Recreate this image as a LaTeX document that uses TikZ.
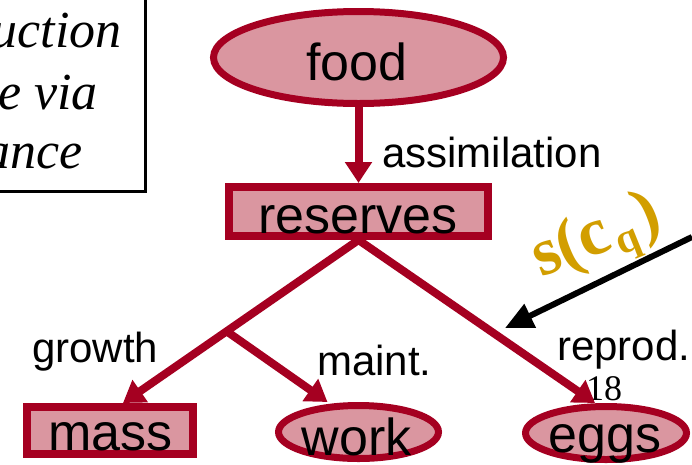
\documentclass[tikz,border=0pt]{standalone}
\usepackage{fontspec}
\setmainfont{Liberation Sans}
\newfontfamily\serifface{Liberation Serif}
\usetikzlibrary{arrows.meta,calc,shapes.geometric}
\definecolor{flowred}{RGB}{165,0,33}
\definecolor{poolpink}{RGB}{218,150,160}
\definecolor{cuegold}{RGB}{210,158,0}

\begin{document}
\begin{tikzpicture}[x=1pt,y=-1pt,
  pool/.style={draw=flowred, fill=poolpink, line width=7pt, inner sep=0pt},
  boxpool/.style={pool, rectangle, line width=8pt},
  ovalpool/.style={pool, ellipse},
  poolname/.style={font=\fontsize{52}{60}\selectfont, anchor=base, inner sep=0pt},
  flowlbl/.style={font=\fontsize{42}{48}\selectfont, anchor=base west, inner sep=0pt},
  notetext/.style={font=\serifface\itshape\fontsize{52}{60}\selectfont, anchor=base east, inner sep=0pt},
  flow/.style={draw=flowred, line width=8pt, -{Triangle[length=21pt,width=26pt]}},
  cue/.style={draw=black, line width=6pt, -{Triangle[length=28pt,width=25pt]}}
]
\useasboundingbox (0,0) rectangle (692,464);

% framed note, partly outside the page
\draw[line width=3.5pt] (-20,-20) rectangle (145.5,191.5);
\node[notetext] (note1) at (122,47) {uction};
\node[notetext] (note2) at (98,109) {e via};
\node[notetext] (note3) at (83,168) {ance};

% pools
\node[ovalpool, minimum width=290pt, minimum height=92pt] (food) at (358.5,57.5) {};
\node[boxpool, minimum width=259pt, minimum height=49pt] (reserves) at (358.5,211.5) {};
\node[boxpool, minimum width=166pt, minimum height=47pt] (mass) at (110,430.5) {};
\node[ovalpool, minimum width=160pt, minimum height=53pt] (work) at (358.5,432) {};
\node[ovalpool, minimum width=161pt, minimum height=53pt] (eggs) at (606,433) {};

\node[poolname] (foodtxt) at (357,80) {food};
\node[poolname] (restxt) at (358,233) {reserves};
\node[poolname] (masstxt) at (110.5,450) {mass};
\node[poolname] (worktxt) at (356.5,455) {work};
\node[poolname] (eggstxt) at (605,452) {eggs};

% flow labels
\node[flowlbl] (assim) at (382,167) {assimilation};
\node[flowlbl] (growth) at (32,362) {growth};
\node[flowlbl] (maint) at (317,375) {maint.};
\node[flowlbl] (reprod) at (557,360) {reprod.};
\node[font=\serifface\fontsize{36}{40}\selectfont, anchor=base west, inner sep=0pt] (pagenum) at (586,400) {18};

% flows
\coordinate (massin) at ([xshift=13pt]mass.north);
\coordinate (fork) at ($(reserves.south)!0.56!(massin)$);
\draw[flow] (food.south) -- (reserves.north);
\draw[flow] (reserves.south) -- (massin);
\draw[flow] (fork) -- ([xshift=-31pt]work.north);
\draw[flow] (reserves.south) -- ([xshift=-11pt]eggs.north);

% external cue acting on reproduction
\coordinate (cuefrom) at (692,237);
\coordinate (cueto) at (505,328);
\draw[cue] (cuefrom) -- (cueto);
\node[rotate=22, anchor=base west, inner sep=0pt, text=cuegold,
      font=\serifface\bfseries\fontsize{68}{72}\selectfont] (cuelbl) at (541,278)
  {s(c\kern4pt\raisebox{-9pt}{\fontsize{42}{44}\selectfont q}\kern4pt)};
\end{tikzpicture}
\end{document}
